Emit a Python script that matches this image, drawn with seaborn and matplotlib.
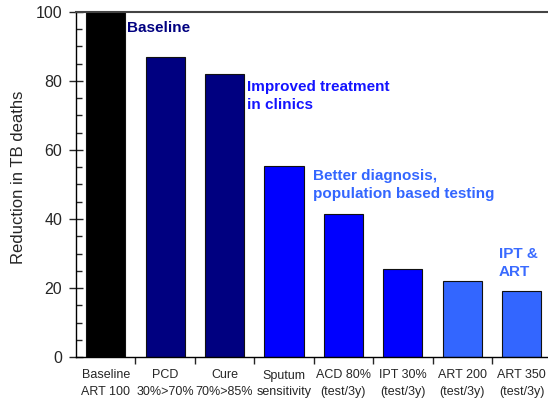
import matplotlib
matplotlib.use("Agg")
import matplotlib.pyplot as plt
import seaborn as sns
import pandas as pd
from matplotlib.ticker import MultipleLocator, FixedLocator

# Interventions and the resulting reduction in TB deaths
categories = [
    "Baseline\nART 100",
    "PCD\n30%>70%",
    "Cure\n70%>85%",
    "Sputum\nsensitivity",
    "ACD 80%\n(test/3y)",
    "IPT 30%\n(test/3y)",
    "ART 200\n(test/3y)",
    "ART 350\n(test/3y)",
]
values = [100, 86.9, 82.0, 55.5, 41.4, 25.5, 22.1, 19.2]
bar_colors = ["#000000", "#000080", "#000080", "#0000FF",
              "#0000FF", "#0000FF", "#3366FF", "#3366FF"]

group_labels = ["Baseline", "Improved treatment\nin clinics",
                "Better diagnosis,\npopulation based testing", "IPT &\nART"]
group_colors = ["#000080", "#1414FF", "#3366FF", "#3A6BFF"]
group_x = [0.36, 2.38, 3.48, 6.62]
group_y = [97.3, 80.3, 54.6, 31.9]

df = pd.DataFrame({"intervention": categories, "reduction": values})

sns.set_style("white")
plt.rcParams["font.family"] = ["Liberation Sans", "DejaVu Sans"]

fig = plt.figure(figsize=(5.48, 4.0), dpi=100)
ax = fig.add_axes([76 / 548, 1 - 357 / 400, 475.4 / 548, 345 / 400])

sns.barplot(data=df, x="intervention", y="reduction", hue="intervention",
            palette=bar_colors, legend=False, width=0.66,
            edgecolor="#111111", linewidth=0.8, saturation=1, ax=ax)

ax.set_xlim(-0.5, 7.5)
ax.set_ylim(0, 100)

# y axis: labelled majors every 20, small inward minors every 5
ax.yaxis.set_major_locator(MultipleLocator(20))
ax.yaxis.set_minor_locator(MultipleLocator(5))
ax.tick_params(axis="y", which="major", direction="inout", length=10,
               width=1, labelsize=11.5, pad=5, left=True)
ax.tick_params(axis="y", which="minor", direction="in", length=4,
               width=1, left=True)

# x axis: labels under bars, tick marks between categories
ax.xaxis.set_minor_locator(FixedLocator([i + 0.5 for i in range(7)]))
ax.tick_params(axis="x", which="major", length=0, labelsize=9, pad=9)
ax.tick_params(axis="x", which="minor", direction="out", length=5,
               width=1, bottom=True)
for lbl in ax.get_xticklabels():
    lbl.set_linespacing(1.45)
ax.set_xlabel("")
ax.set_ylabel("Reduction in TB deaths", fontsize=12)
ax.yaxis.set_label_coords(-0.106, 0.52)

for side in ["left", "bottom"]:
    ax.spines[side].set_color("black")
    ax.spines[side].set_linewidth(1)
ax.spines["top"].set_color("#444444")
ax.spines["top"].set_linewidth(1.5)
ax.spines["right"].set_visible(False)

for label, color, x, y in zip(group_labels, group_colors, group_x, group_y):
    ax.text(x, y, label, color=color, fontsize=11, fontweight="bold",
            ha="left", va="top", linespacing=1.4)

fig.savefig("out.png", dpi=100)
